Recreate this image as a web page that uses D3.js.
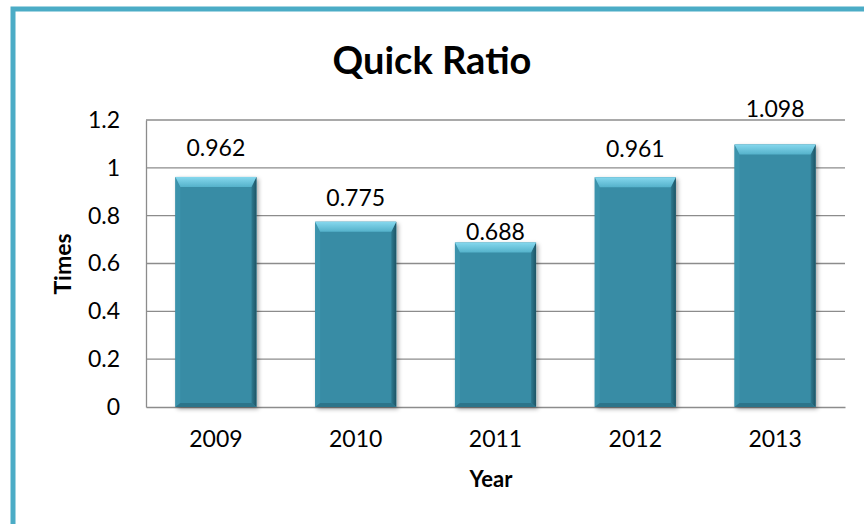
<!DOCTYPE html>
<html><head><meta charset="utf-8">
<script src="https://cdn.jsdelivr.net/npm/d3@7"></script>
<style>html,body{margin:0;padding:0;background:#fff;overflow:hidden}svg{display:block}</style>
</head><body>
<script>
const years = ["2009","2010","2011","2012","2013"];
const quickRatio = [0.962, 0.775, 0.688, 0.961, 1.098];
const yTicks = [0, 0.2, 0.4, 0.6, 0.8, 1, 1.2];
const labelLift = [21, 16, 2, 20, 27];

const W = 864, H = 524;
const svg = d3.select("body").append("svg").attr("width", W).attr("height", H);
const defs = svg.append("defs");
const f = defs.append("filter").attr("id","sh").attr("x","-20%").attr("y","-20%").attr("width","140%").attr("height","140%");
f.append("feDropShadow").attr("dx",2).attr("dy",2).attr("stdDeviation",2).attr("flood-color","#000").attr("flood-opacity",0.35);
const tg = defs.append("linearGradient").attr("id","topg").attr("x1",0).attr("y1",0).attr("x2",0).attr("y2",1);
tg.append("stop").attr("offset",0).attr("stop-color","#86D8EE");
tg.append("stop").attr("offset",1).attr("stop-color","#55B2CB");
const rg = defs.append("linearGradient").attr("id","rightg").attr("x1",0).attr("y1",0).attr("x2",1).attr("y2",0);
rg.append("stop").attr("offset",0).attr("stop-color","#2E7A90");
rg.append("stop").attr("offset",1).attr("stop-color","#1D5465");

// outer border
svg.append("rect").attr("x",13).attr("y",9).attr("width",900).attr("height",600)
  .attr("fill","#fff").attr("stroke","#4BACC6").attr("stroke-width",5);

const x = d3.scaleBand().domain(years).range([146,845]).paddingInner(0.42).paddingOuter(0.21);
const y = d3.scaleLinear().domain([0,1.2]).range([407,120]);

// gridlines
svg.append("g").selectAll("line").data(yTicks.filter(d=>d>0)).join("line")
  .attr("x1",146).attr("x2",845).attr("y1",d=>y(d)).attr("y2",d=>y(d))
  .attr("stroke","#8c8c8c").attr("stroke-width",1.3);

// y axis
const ya = svg.append("g").attr("transform","translate(146,0)")
  .call(d3.axisLeft(y).tickValues(yTicks).tickFormat(d3.format("~g")).tickSize(0).tickPadding(26));
ya.select(".domain").attr("stroke","#8c8c8c").attr("stroke-width",1.3);
ya.selectAll("text").attr("font-family","Lato, sans-serif").attr("font-size",23).attr("fill","#000");

// x axis
const xa = svg.append("g").attr("transform","translate(0,407)")
  .call(d3.axisBottom(x).tickSize(0).tickPadding(24));
xa.select(".domain").attr("stroke","#8c8c8c").attr("stroke-width",1.3);
xa.selectAll("text").attr("font-family","Lato, sans-serif").attr("font-size",23).attr("fill","#000");

// bars with bevel
const bw = x.bandwidth();
const data = years.map((yr,i)=>({yr, v: quickRatio[i], i}));
const bars = svg.append("g").selectAll("g").data(data).join("g");
bars.each(function(d){
  const g = d3.select(this);
  const x0 = x(d.yr), x1 = x0 + bw, y0 = y(d.v), y1 = y(0);
  const bt = 10, bs = 5, bb = 4;
  g.append("rect").attr("x",x0).attr("y",y0).attr("width",bw).attr("height",y1-y0)
    .attr("fill","#388CA5").attr("filter","url(#sh)");
  g.append("polygon").attr("points",[[x0,y0],[x0+bs,y0+bt],[x0+bs,y1-bb],[x0,y1]].join(" "))
    .attr("fill","#3C93AC");
  g.append("polygon").attr("points",[[x1,y0],[x1,y1],[x1-bs,y1-bb],[x1-bs,y0+bt]].join(" "))
    .attr("fill","url(#rightg)");
  g.append("polygon").attr("points",[[x0,y1],[x0+bs,y1-bb],[x1-bs,y1-bb],[x1,y1]].join(" "))
    .attr("fill","#2C748A");
  g.append("polygon").attr("points",[[x0,y0],[x1,y0],[x1-bs,y0+bt],[x0+bs,y0+bt]].join(" "))
    .attr("fill","url(#topg)");
});

// data labels
svg.append("g").selectAll("text").data(data).join("text")
  .attr("x",d=>x(d.yr)+bw/2).attr("y",d=>y(d.v)-labelLift[d.i])
  .attr("text-anchor","middle").attr("font-family","Lato, sans-serif").attr("font-size",23)
  .attr("fill","#000").text(d=>d3.format(".3f")(d.v));

// title
svg.append("text").attr("x",432).attr("y",74).attr("text-anchor","middle")
  .attr("font-family","Lato, sans-serif").attr("font-weight","bold").attr("font-size",38)
  .text("Quick Ratio");

// axis titles
svg.append("text").attr("transform","translate(71,264) rotate(-90)").attr("text-anchor","middle")
  .attr("font-family","Lato, sans-serif").attr("font-weight","bold").attr("font-size",23)
  .text("Times");
svg.append("text").attr("x",491).attr("y",487).attr("text-anchor","middle")
  .attr("font-family","Lato, sans-serif").attr("font-weight","bold").attr("font-size",22)
  .text("Year");
</script>
</body></html>
